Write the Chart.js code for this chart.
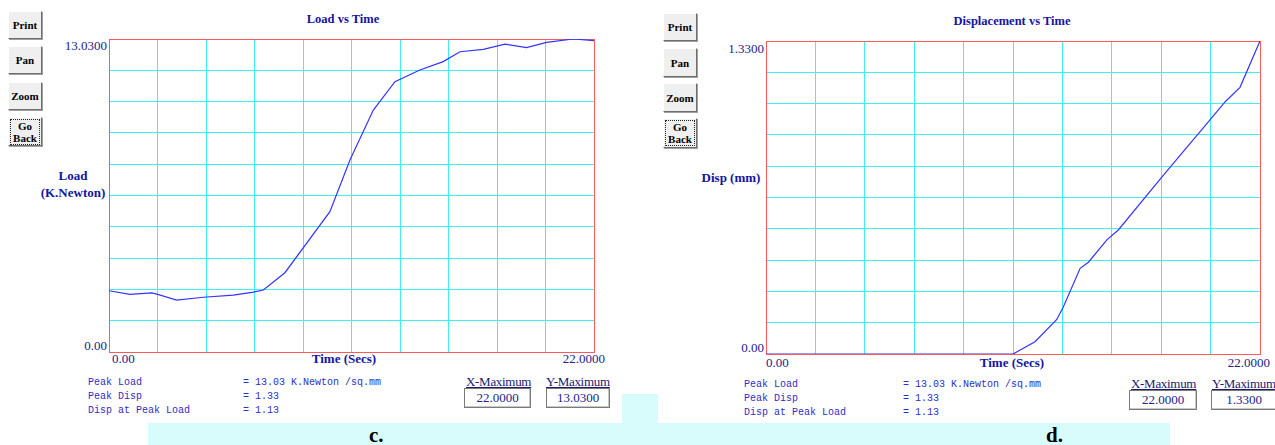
<!DOCTYPE html>
<html>
<head>
<meta charset="utf-8">
<script src="https://cdn.jsdelivr.net/npm/chart.js@4.4.1/dist/chart.umd.min.js"></script>
<style>
  html, body { margin: 0; padding: 0; background: #fff; }
  #page { position: relative; width: 1275px; height: 445px; overflow: hidden; background: #fff; }
  .abs { position: absolute; white-space: nowrap; }
  .btn {
    position: absolute; box-sizing: border-box;
    background: #efefef;
    border: 1px solid; border-color: #ffffff #6e6e6e #6e6e6e #ffffff;
    box-shadow: 1px 1px 0 #a0a0a0;
    font: bold 11px "Liberation Serif", serif; color: #000;
    display: flex; align-items: center; justify-content: center; text-align: center;
  }
  .btn .focus { border: 1px dotted #222; padding: 0 2px; line-height: 12px; }
  .tick { font: 13px "Liberation Serif", serif; color: #22228a; }
  .axt { font: bold 13px "Liberation Serif", serif; color: #1414a0; }
  .ttl { font: bold 12.5px "Liberation Serif", serif; color: #1414a0; }
  .info { font: 10px "Liberation Mono", monospace; color: #2e2ec8; line-height: 14px; }
  .mxl { font: 13px "Liberation Serif", serif; color: #1a1a70; text-decoration: underline; letter-spacing: -0.3px; }
  .mxb { position: absolute; box-sizing: border-box; border: 1px solid #7a7a7a; box-shadow: inset -1px -1px 0 #c8c8c8; background: #fff;
         font: 13px "Liberation Serif", serif; color: #22228a; text-align: center; line-height: 18px; }
  .cap { font: bold 21px "Liberation Serif", serif; color: #000; }
  canvas { position: absolute; }
</style>
</head>
<body>
<div id="page">
  <!-- caption band -->
  <div class="abs" style="left:148px; top:423px; width:1022px; height:22px; background:#d8fcfc;"></div>
  <div class="abs" style="left:622px; top:394px; width:36px; height:30px; background:#d8fcfc;"></div>
  <div class="abs cap" style="left:369px; top:423px;">c.</div>
  <div class="abs cap" style="left:1046px; top:423px;">d.</div>

  <!-- left panel buttons -->
  <div class="btn" style="left:8px; top:11px; width:34px; height:28px;">Print</div>
  <div class="btn" style="left:8px; top:46px; width:34px; height:28px;">Pan</div>
  <div class="btn" style="left:8px; top:82px; width:34px; height:28px;">Zoom</div>
  <div class="btn" style="left:8px; top:117px; width:34px; height:29px;"><div class="focus">Go<br>Back</div></div>

  <!-- right panel buttons -->
  <div class="btn" style="left:663px; top:13px; width:34px; height:28px;">Print</div>
  <div class="btn" style="left:663px; top:48px; width:34px; height:29px;">Pan</div>
  <div class="btn" style="left:663px; top:83px; width:34px; height:29px;">Zoom</div>
  <div class="btn" style="left:663px; top:118px; width:34px; height:30px;"><div class="focus">Go<br>Back</div></div>

  <!-- left chart texts -->
  <div class="abs ttl" style="left:343px; top:12px; transform:translateX(-50%);">Load vs Time</div>
  <div class="abs tick" style="right:1168px; top:38px;">13.0300</div>
  <div class="abs tick" style="right:1168px; top:338px;">0.00</div>
  <div class="abs axt" style="left:73px; top:167px; transform:translateX(-50%); text-align:center; line-height:17px;">Load<br>(K.Newton)</div>
  <div class="abs tick" style="left:112px; top:351px;">0.00</div>
  <div class="abs axt" style="left:344px; top:351px; transform:translateX(-50%);">Time (Secs)</div>
  <div class="abs tick" style="right:670px; top:351px;">22.0000</div>

  <div class="abs info" style="left:88px; top:376px;">Peak Load<br>Peak Disp<br>Disp at Peak Load</div>
  <div class="abs info" style="left:243px; top:376px;">= 13.03 K.Newton /sq.mm<br>= 1.33<br>= 1.13</div>
  <div class="abs mxl" style="left:466px; top:374px;">X-Maximum</div>
  <div class="mxb" style="left:464px; top:388px; width:67px; height:20px;">22.0000</div>
  <div class="abs mxl" style="left:546px; top:374px;">Y-Maximum</div>
  <div class="mxb" style="left:546px; top:388px; width:64px; height:20px;">13.0300</div>

  <!-- right chart texts -->
  <div class="abs ttl" style="left:1012px; top:14px; transform:translateX(-50%);">Displacement vs Time</div>
  <div class="abs tick" style="right:511px; top:41px;">1.3300</div>
  <div class="abs tick" style="right:511px; top:340px;">0.00</div>
  <div class="abs axt" style="left:731px; top:170px; transform:translateX(-50%);">Disp (mm)</div>
  <div class="abs tick" style="left:766px; top:355px;">0.00</div>
  <div class="abs axt" style="left:1012px; top:355px; transform:translateX(-50%);">Time (Secs)</div>
  <div class="abs tick" style="right:5px; top:355px;">22.0000</div>

  <div class="abs info" style="left:744px; top:378px;">Peak Load<br>Peak Disp<br>Disp at Peak Load</div>
  <div class="abs info" style="left:903px; top:378px;">= 13.03 K.Newton /sq.mm<br>= 1.33<br>= 1.13</div>
  <div class="abs mxl" style="left:1131px; top:376px;">X-Maximum</div>
  <div class="mxb" style="left:1129px; top:390px; width:68px; height:20px;">22.0000</div>
  <div class="abs mxl" style="left:1212px; top:376px;">Y-Maximum</div>
  <div class="mxb" style="left:1211px; top:390px; width:66px; height:20px;">1.3300</div>

  <canvas id="loadChart" width="491" height="319" style="left:106px; top:36px;"></canvas>
  <canvas id="dispChart" width="500" height="319" style="left:763px; top:38px;"></canvas>
</div>

<script>
// Load vs Time samples (seconds, K.Newton)
const loadTime   = [0, 0.95, 1.94, 2.21, 3.07, 4.28, 5.64, 6.55, 7.0, 7.98, 10.02, 10.93, 11.99, 12.97, 14.1, 15.16, 15.92, 16.98, 17.96, 18.94, 19.85, 21.06, 22.0];
const loadValues = [2.55, 2.40, 2.46, 2.40, 2.16, 2.28, 2.37, 2.49, 2.58, 3.30, 5.84, 7.99, 10.07, 11.25, 11.74, 12.09, 12.50, 12.60, 12.82, 12.67, 12.89, 13.03, 12.96];

// Displacement vs Time samples (seconds, mm)
const dispTime   = [0, 11.0, 11.98, 12.95, 13.24, 13.99, 14.36, 15.18, 15.69, 17.7, 19.82, 20.45, 21.11, 22.0];
const dispValues = [0, 0, 0.052, 0.147, 0.20, 0.364, 0.39, 0.485, 0.527, 0.76, 1.0, 1.072, 1.133, 1.33];

// Axis ranges and grid divisions
const xMax = 22.0;
const loadMax = 13.03;
const dispMax = 1.33;
const gridDivisions = 10;

const GRID = '#3ef0f0';
const FRAME = '#ff5a5a';
const LINE = '#3434ff';

// Red frame on the outer grid lines, drawn under the data line
const framePlugin = {
  id: 'frame',
  beforeDatasetsDraw(chart) {
    const a = chart.chartArea, ctx = chart.ctx;
    const l = Math.round(a.left) + 0.5, r = Math.round(a.right) + 0.5;
    const t = Math.round(a.top) + 0.5, b = Math.round(a.bottom) + 0.5;
    ctx.save();
    ctx.strokeStyle = FRAME;
    ctx.lineWidth = 1;
    ctx.strokeRect(l, t, r - l, b - t);
    ctx.restore();
  }
};

function gridScale(max) {
  return {
    type: 'linear',
    min: 0,
    max: max,
    afterBuildTicks(scale) {
      const t = [];
      for (let i = 0; i <= gridDivisions; i++) t.push({ value: max * i / gridDivisions });
      scale.ticks = t;
    },
    ticks: { display: false },
    grid: {
      color: c => (c.index === 0 || c.index === gridDivisions) ? FRAME : GRID,
      lineWidth: 1,
      drawTicks: false
    },
    border: { display: false }
  };
}

function makeChart(id, xs, ys, yMax) {
  new Chart(document.getElementById(id), {
    type: 'line',
    data: {
      datasets: [{
        data: xs.map((x, i) => ({ x: x, y: ys[i] })),
        borderColor: LINE,
        borderWidth: 1.2,
        pointRadius: 0,
        tension: 0,
        fill: false
      }]
    },
    options: {
      responsive: false,
      animation: false,
      devicePixelRatio: 1,
      layout: { padding: 3 },
      plugins: { legend: { display: false }, tooltip: { enabled: false }, title: { display: false } },
      scales: { x: gridScale(xMax), y: gridScale(yMax) }
    },
    plugins: [framePlugin]
  });
}

makeChart('loadChart', loadTime, loadValues, loadMax);
makeChart('dispChart', dispTime, dispValues, dispMax);
</script>
</body>
</html>
